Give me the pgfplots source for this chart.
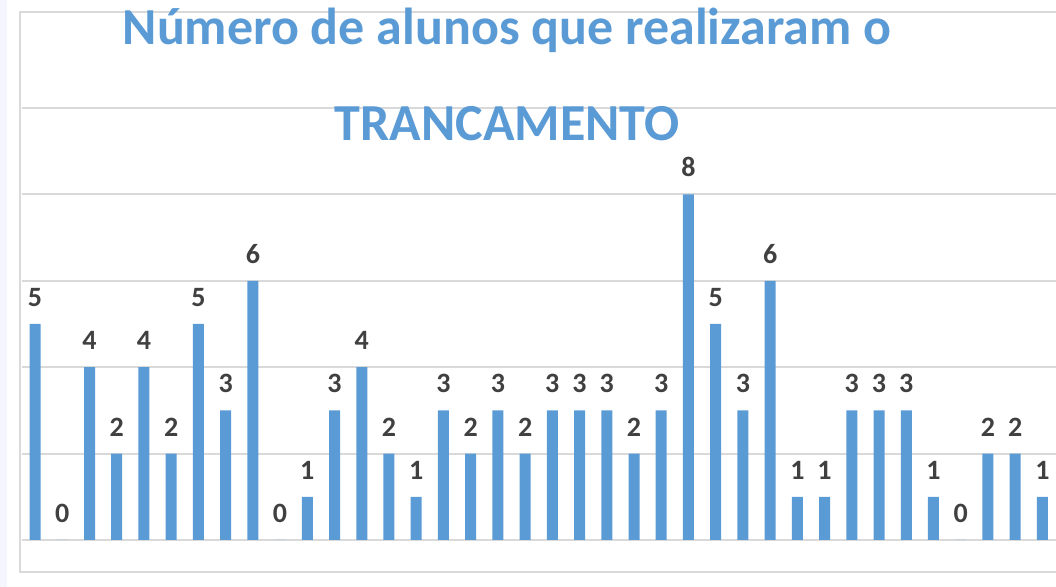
\documentclass[border=0pt]{standalone}
\usepackage{fontspec}
\setmainfont{Carlito}
\usepackage{pgfplots}
\pgfplotsset{compat=1.18}
\definecolor{barblue}{RGB}{91,155,213}
\definecolor{gridgray}{RGB}{217,217,217}
\definecolor{labelgray}{RGB}{64,64,64}

\pgfplotstableread{
x y
0 5
1 0
2 4
3 2
4 4
5 2
6 5
7 3
8 6
9 0
10 1
11 3
12 4
13 2
14 1
15 3
16 2
17 3
18 2
19 3
20 3
21 3
22 2
23 3
24 8
25 5
26 3
27 6
28 1
29 1
30 3
31 3
32 3
33 1
34 0
35 2
36 2
37 1
}\trancamento

\begin{document}
\begin{tikzpicture}[x=0.5pt,y=0.5pt]
% page = 1056 x 587 px, 1px = 0.5pt
\useasboundingbox (0,0) rectangle (1056,587);
\fill[blue!4] (0,0) rectangle (7,587);
% chart frame (right side cropped off)
\draw[gridgray, line width=1.3pt] (1070,575) -- (20,575) -- (20,15) -- (1070,15);
\begin{axis}[
  at={(22*0.5pt,47*0.5pt)}, anchor=south west,
  scale only axis, width=517pt, height=216pt,
  xmin=-0.48, xmax=37.5, ymin=0, ymax=10,
  ybar, bar width=5.5pt,
  xtick=\empty, ytick={0,2,...,10}, yticklabels={},
  ymajorgrids, major grid style={draw=gridgray, line width=1pt},
  axis line style={draw=none}, tick style={draw=none},
  /pgf/number format/assume math mode=true,
  nodes near coords,
  every node near coord/.append style={font=\fontsize{14}{16}\selectfont\bfseries,
    text=labelgray, anchor=south, inner sep=0pt, yshift=8.5pt},
  clip=false,
]
\addplot[fill=barblue, draw=none] table[x=x,y=y] {\trancamento};
\end{axis}
\node[anchor=base, text=barblue, font=\fontsize{26}{30}\selectfont\bfseries] at (507,542) {Número de alunos que realizaram o};
\node[anchor=base, text=barblue, font=\fontsize{26}{30}\selectfont\bfseries] at (507,446) {TRANCAMENTO};
\end{tikzpicture}
\end{document}
